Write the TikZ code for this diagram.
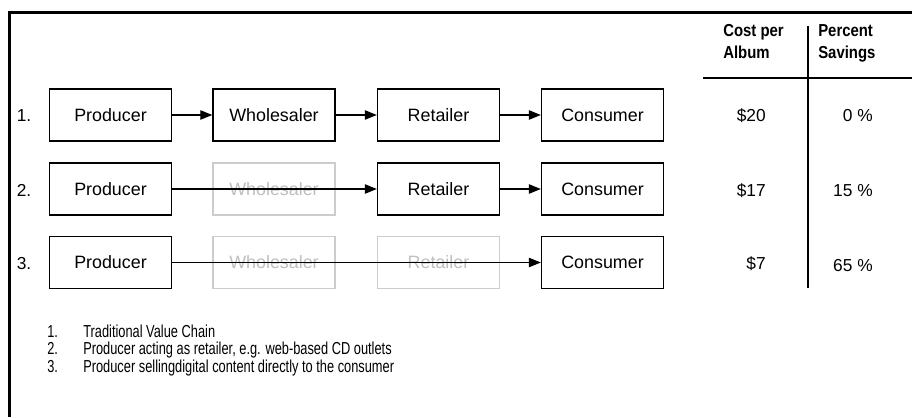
\documentclass[tikz,border=0pt]{standalone}
\usepackage{fontspec}
\setmainfont{Liberation Sans}
\newfontfamily\narrowfont[FakeStretch=0.74]{Liberation Sans}
\newfontfamily\hdrfont[FakeStretch=0.86]{Liberation Sans}
\usetikzlibrary{arrows.meta}
\begin{document}
\begin{tikzpicture}[x=0.75pt,y=-0.75pt,
  box/.style={draw, line width=0.95pt, minimum width=91.5pt, minimum height=39pt, inner sep=0pt,
    font=\fontsize{13.4}{15}\selectfont},
  ghost/.style={box, draw=gray!40, text=gray!50},
  flow/.style={-{Triangle[length=9pt,width=7pt]}, line width=0.8pt},
  txt/.style={font=\fontsize{13}{15}\selectfont, inner sep=0pt},
  hdr/.style={font=\hdrfont\bfseries\fontsize{13}{16.5}\selectfont, align=left, inner sep=0pt},
  leg/.style={font=\narrowfont\fontsize{13}{15}\selectfont, inner sep=0pt, anchor=base west},
  frame/.style={line width=2.4pt},
  rule/.style={line width=0.9pt}]
\useasboundingbox (0,0) rectangle (912,417);
\fill[white] (0,0) rectangle (912,417);
% frame
\draw[frame] (9.5,417) -- (9.5,12.5) -- (912,12.5);
% table lines
\coordinate (vtop) at (808,26);
\coordinate (vbot) at (808,288);
\coordinate (hl) at (703,78);
\coordinate (hr) at (912,78);
\draw[rule] (vtop) -- (vbot);
\draw[rule] (hl) -- (hr);
% headers
\node[hdr, anchor=north west] (hcost) at (723,24) {Cost per\\Album};
\node[hdr, anchor=north west] (hsave) at (818,24) {Percent\\Savings};

% row 1
\node[txt, anchor=base] (n1) at (24,122) {1.};
\node[box] (p1) at (110.5,115) {Producer};
\node[box] (w1) at (274,115) {Wholesaler};
\node[box] (r1) at (438.5,115) {Retailer};
\node[box] (c1) at (602.5,115) {Consumer};
\draw[flow] (p1) -- (w1);
\draw[flow] (w1) -- (r1);
\draw[flow] (r1) -- (c1);
\node[txt, anchor=base east] (cost1) at (766,122) {\$20};
\node[txt, anchor=base east] (sav1) at (873,122) {0 \%};

% row 2
\node[txt, anchor=base] (n2) at (24,196) {2.};
\node[box] (p2) at (110.5,189) {Producer};
\node[ghost] (w2) at (274,189) {Wholesaler};
\node[box] (r2) at (438.5,189) {Retailer};
\node[box] (c2) at (602.5,189) {Consumer};
\draw[flow] (p2) -- (r2);
\draw[flow] (r2) -- (c2);
\node[txt, anchor=base east] (cost2) at (766,196) {\$17};
\node[txt, anchor=base east] (sav2) at (873,196) {15 \%};

% row 3
\node[txt, anchor=base] (n3) at (24,269.5) {3.};
\node[box] (p3) at (110.5,262.5) {Producer};
\node[ghost] (w3) at (274,262.5) {Wholesaler};
\node[ghost] (r3) at (438.5,262.5) {Retailer};
\node[box] (c3) at (602.5,262.5) {Consumer};
\draw[flow] (p3) -- (c3);
\node[txt, anchor=base east] (cost3) at (766,269.5) {\$7};
\node[txt, anchor=base east] (sav3) at (873,271) {65 \%};

% legend
\node[leg] (l1n) at (47,337) {1.};
\node[leg] (l1t) at (83,337) {Traditional Value Chain};
\node[leg] (l2n) at (47,354.5) {2.};
\node[leg] (l2t) at (83,354.5) {Producer acting as retailer, e.g. web-based CD outlets};
\node[leg] (l3n) at (47,372) {3.};
\node[leg] (l3t) at (83,372) {Producer sellingdigital content directly to the consumer};
\end{tikzpicture}
\end{document}
